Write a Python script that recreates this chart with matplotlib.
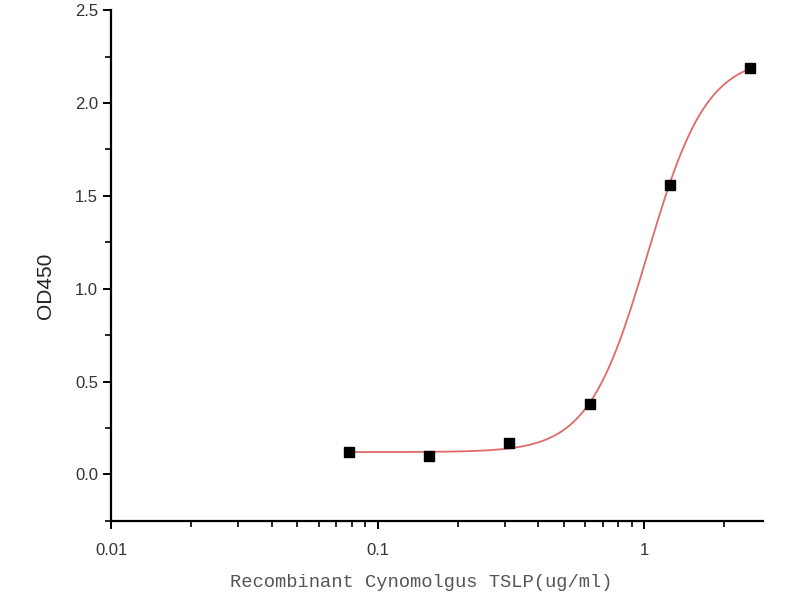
import numpy as np
import matplotlib
matplotlib.use("Agg")
import matplotlib.pyplot as plt
from matplotlib.ticker import LogLocator, FixedLocator, MultipleLocator, FuncFormatter

# Data
conc = [0.078, 0.156, 0.3125, 0.625, 1.25, 2.5]
od450 = [0.12, 0.10, 0.17, 0.38, 1.56, 2.19]
# 4-parameter logistic fit parameters (bottom, top, EC50, hill)
fit_bottom, fit_top, fit_ec50, fit_hill = 0.12, 2.25, 1.03, 3.9

x_label = "Recombinant Cynomolgus TSLP(ug/ml)"
y_label = "OD450"

fig = plt.figure(figsize=(8, 6), dpi=100)
ax = fig.add_axes([0.139, 0.132, 0.815, 0.851])

xf = np.logspace(np.log10(conc[0]), np.log10(conc[-1]), 400)
yf = fit_bottom + (fit_top - fit_bottom) * (xf / fit_ec50) ** fit_hill / (1 + (xf / fit_ec50) ** fit_hill)
ax.plot(xf, yf, color="#e06a6a", lw=1.3, zorder=2)
ax.plot(conc, od450, linestyle="none", marker="s", markersize=7, color="black", zorder=3)

ax.set_xscale("log")
ax.set_xlim(0.01, 2.8)
ax.set_ylim(-0.25, 2.5)
ax.yaxis.set_major_locator(MultipleLocator(0.5))
ax.yaxis.set_minor_locator(MultipleLocator(0.25))
ax.yaxis.set_major_formatter(FuncFormatter(lambda v, p: f"{v:.1f}"))
ax.xaxis.set_major_locator(FixedLocator([0.01, 0.1, 1]))
ax.xaxis.set_major_formatter(FuncFormatter(lambda v, p: {0.01: "0.01", 0.1: "0.1", 1: "1"}.get(round(v, 4), "")))
ax.xaxis.set_minor_locator(LogLocator(base=10, subs=np.arange(2, 10)))

for s in ["top", "right"]:
    ax.spines[s].set_visible(False)
for s in ["left", "bottom"]:
    ax.spines[s].set_linewidth(1.6)

ax.tick_params(which="major", direction="out", length=6, width=1.4, labelsize=12, labelcolor="#333333")
ax.tick_params(axis="x", which="major", pad=10)
ax.tick_params(which="minor", direction="out", length=4, width=1.2)

ax.set_ylabel(y_label, fontsize=15, family="Liberation Sans", color="#222222")
ax.yaxis.set_label_coords(-0.086, 0.46)
ax.set_xlabel(x_label, fontsize=13.5, family="Liberation Mono", color="#555555")
ax.xaxis.set_label_coords(0.475, -0.104)
for lab in ax.get_yticklabels() + ax.get_xticklabels():
    lab.set_family("Liberation Sans")

fig.savefig("out.png", dpi=100)
